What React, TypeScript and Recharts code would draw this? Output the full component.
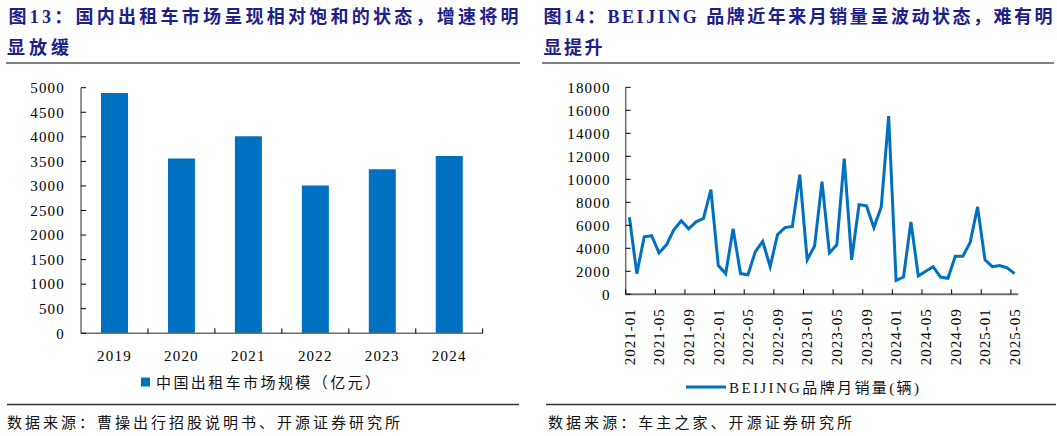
import React from 'react';
import { BarChart, Bar, LineChart, Line, XAxis, YAxis } from 'recharts';

const years = ['2019', '2020', '2021', '2022', '2023', '2024'];
const taxiMarket = [4890, 3560, 4010, 3010, 3340, 3610];
const leftYTicks = [0, 500, 1000, 1500, 2000, 2500, 3000, 3500, 4000, 4500, 5000];

const months = [
  '2021-01', '2021-02', '2021-03', '2021-04', '2021-05', '2021-06', '2021-07', '2021-08', '2021-09', '2021-10', '2021-11', '2021-12',
  '2022-01', '2022-02', '2022-03', '2022-04', '2022-05', '2022-06', '2022-07', '2022-08', '2022-09', '2022-10', '2022-11', '2022-12',
  '2023-01', '2023-02', '2023-03', '2023-04', '2023-05', '2023-06', '2023-07', '2023-08', '2023-09', '2023-10', '2023-11', '2023-12',
  '2024-01', '2024-02', '2024-03', '2024-04', '2024-05', '2024-06', '2024-07', '2024-08', '2024-09', '2024-10', '2024-11', '2024-12',
  '2025-01', '2025-02', '2025-03', '2025-04', '2025-05',
];
const beijingSales = [
  6700, 1800, 5000, 5100, 3600, 4300, 5600, 6400, 5700, 6300, 6600, 9100,
  2500, 1800, 5700, 1800, 1700, 3700, 4600, 2400, 5200, 5800, 5900, 10400,
  3000, 4200, 9800, 3600, 4300, 11800, 3000, 7800, 7700, 5800, 7600, 15500,
  1200, 1500, 6300, 1600, 2000, 2400, 1500, 1400, 3300, 3300, 4500, 7600,
  3000, 2400, 2500, 2300, 1800,
];
const monthTickIdx = [0, 4, 8, 12, 16, 20, 24, 28, 32, 36, 40, 44, 48, 52];
const rightYTicks = [0, 2000, 4000, 6000, 8000, 10000, 12000, 14000, 16000, 18000];

const leftData = years.map((y, i) => ({ year: y, v: taxiMarket[i] }));
const rightData = months.map((m, i) => ({ i, m, v: beijingSales[i] }));

const BLUE = '#0070C0';
const SERIF = "'Liberation Serif', 'Times New Roman', serif";
const MIXED = "'Liberation Serif', 'Noto Sans CJK SC', serif";
const CJK = "'Noto Sans CJK SC', sans-serif";
const TITLE = '#1d2088';
const AXIS = '#6f6f6f';

// left chart geometry
const L_W = 530, L_H = 300;
const L_M = { top: 17.7, right: 47.3, bottom: 6.7, left: 0 };
const L_YW = 81;
const L_PLOT_W = L_W - L_M.left - L_M.right - L_YW;
const L_BAND = L_PLOT_W / years.length;

// right chart geometry
const R_W = 527, R_H = 300;
const R_M = { top: 17.3, right: 38.7, bottom: 5.7, left: 0 };
const R_YW = 95.7;
const R_PLOT_W = R_W - R_M.left - R_M.right - R_YW;
const R_HALF = R_PLOT_W / months.length / 2;

const YTick = (props: any) => {
  const { x, y, payload, gap } = props;
  return (
    <g>
      <line x1={x} x2={x + 5} y1={y} y2={y} stroke="#000" strokeWidth={1} />
      <text x={x - gap} y={y} dy="0.35em" textAnchor="end" fontFamily={SERIF} fontSize={15} letterSpacing={1.2} fill="#000">
        {payload.value}
      </text>
    </g>
  );
};

const YearTick = (props: any) => {
  const { x, y, payload } = props;
  const bx = x + L_BAND / 2;
  return (
    <g>
      <line x1={bx} x2={bx} y1={y} y2={y - 5} stroke="#000" strokeWidth={1} />
      <text x={x} y={y + 22} dy="0.35em" textAnchor="middle" fontFamily={SERIF} fontSize={15} letterSpacing={1.2} fill="#000">
        {payload.value}
      </text>
    </g>
  );
};

const MonthTick = (props: any) => {
  const { x, y, payload } = props;
  const bx = x - R_HALF;
  const lx = x;
  const ly = y + 14;
  return (
    <g>
      <line x1={bx} x2={bx} y1={y} y2={y - 5} stroke="#000" strokeWidth={1} />
      <text
        x={lx}
        y={ly}
        dy="0.35em"
        textAnchor="end"
        transform={`rotate(-90 ${lx} ${ly})`}
        fontFamily={SERIF}
        fontSize={15}
        letterSpacing={1}
        fill="#000"
      >
        {months[payload.value]}
      </text>
    </g>
  );
};

export default function App() {
  return (
    <div style={{ position: 'absolute', left: 0, top: 0, width: 1057, height: 436, background: '#fff', overflow: 'hidden' }}>
      <svg width={1057} height={436} style={{ position: 'absolute', left: 0, top: 0 }}>
        {/* titles */}
        <text x={8.5} y={23.3} fontSize={18} fontWeight="bold" fill={TITLE} fontFamily={MIXED} textLength={510} lengthAdjust="spacing">
          图13：国内出租车市场呈现相对饱和的状态，增速将明
        </text>
        <text x={7} y={53.6} fontSize={18} fontWeight="bold" fill={TITLE} fontFamily={MIXED} textLength={62} lengthAdjust="spacing">
          显放缓
        </text>
        <text x={543.5} y={23.3} fontSize={18} fontWeight="bold" fill={TITLE} fontFamily={MIXED} textLength={509} lengthAdjust="spacing">
          图14：BEIJING 品牌近年来月销量呈波动状态，难有明
        </text>
        <text x={543.5} y={53.6} fontSize={18} fontWeight="bold" fill={TITLE} fontFamily={MIXED} textLength={59} lengthAdjust="spacing">
          显提升
        </text>
        <line x1={6} x2={520} y1={63} y2={63} stroke="#808080" strokeWidth={2} />
        <line x1={542} x2={1054} y1={63} y2={63} stroke="#808080" strokeWidth={2} />

        {/* legends */}
        <rect x={141} y={377.5} width={9} height={9} fill={BLUE} />
        <text x={156} y={387.5} fontSize={15} fill="#111" fontFamily={CJK} textLength={224} lengthAdjust="spacing">
          中国出租车市场规模（亿元）
        </text>
        <line x1={686} x2={726} y1={387} y2={387} stroke={BLUE} strokeWidth={3} />
        <text x={729} y={392.5} fontSize={15} fill="#111" fontFamily={MIXED} textLength={190} lengthAdjust="spacing">
          BEIJING品牌月销量(辆)
        </text>

        {/* bottom separators and sources */}
        <line x1={7} x2={519} y1={404.5} y2={404.5} stroke="#333" strokeWidth={1.5} />
        <line x1={546} x2={1056} y1={404.5} y2={404.5} stroke="#333" strokeWidth={1.5} />
        <text x={7} y={427.5} fontSize={15} fill="#111" fontFamily={CJK} textLength={393} lengthAdjust="spacing">
          数据来源：曹操出行招股说明书、开源证券研究所
        </text>
        <text x={548} y={427.5} fontSize={15} fill="#111" fontFamily={CJK} textLength={304} lengthAdjust="spacing">
          数据来源：车主之家、开源证券研究所
        </text>
      </svg>

      <div style={{ position: 'absolute', left: 0, top: 70, width: L_W, height: L_H }}>
        <BarChart width={L_W} height={L_H} data={leftData} margin={L_M} barSize={27}>
          <XAxis
            dataKey="year"
            height={30}
            interval={0}
            tickLine={false}
            tickSize={0}
            tickMargin={0}
            axisLine={{ stroke: AXIS, strokeWidth: 1.5 }}
            tick={<YearTick />}
          />
          <YAxis
            type="number"
            domain={[0, 5000]}
            ticks={leftYTicks}
            interval={0}
            width={L_YW}
            tickLine={false}
            tickSize={0}
            tickMargin={0}
            axisLine={{ stroke: AXIS, strokeWidth: 1.5 }}
            tick={<YTick gap={16} />}
          />
          <Bar dataKey="v" fill={BLUE} isAnimationActive={false} />
        </BarChart>
      </div>

      <div style={{ position: 'absolute', left: 530, top: 70, width: R_W, height: R_H }}>
        <LineChart width={R_W} height={R_H} data={rightData} margin={R_M}>
          <XAxis
            type="number"
            dataKey="i"
            domain={[-0.5, 52.5]}
            ticks={monthTickIdx}
            interval={0}
            height={70}
            tickLine={false}
            tickSize={0}
            tickMargin={0}
            axisLine={{ stroke: AXIS, strokeWidth: 2 }}
            tick={<MonthTick />}
          />
          <YAxis
            type="number"
            domain={[0, 18000]}
            ticks={rightYTicks}
            interval={0}
            width={R_YW}
            tickLine={false}
            tickSize={0}
            tickMargin={0}
            axisLine={{ stroke: AXIS, strokeWidth: 1.5 }}
            tick={<YTick gap={15} />}
          />
          <Line type="linear" dataKey="v" stroke={BLUE} strokeWidth={3} dot={false} isAnimationActive={false} />
        </LineChart>
      </div>
    </div>
  );
}
